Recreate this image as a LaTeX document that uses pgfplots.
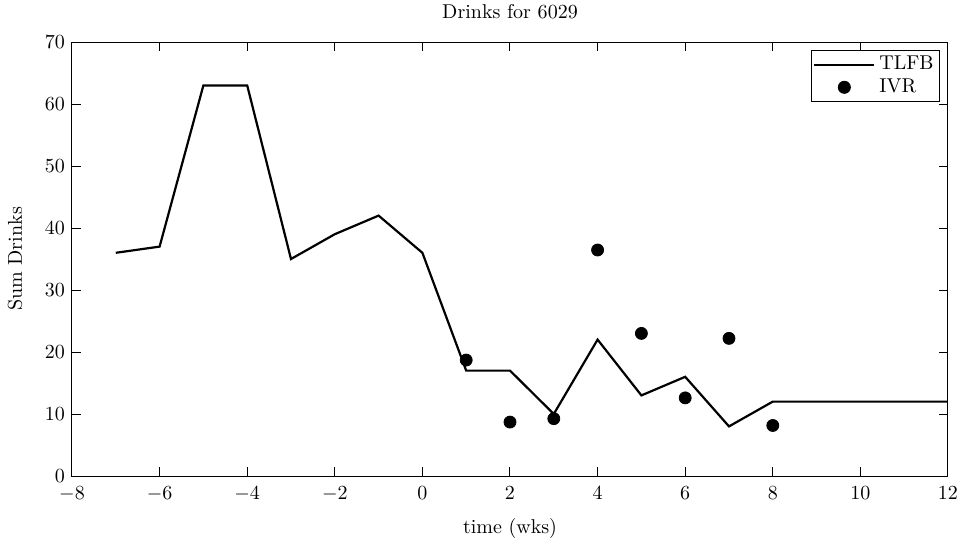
\documentclass[border=0pt]{standalone}
\usepackage{pgfplots}
\pgfplotsset{compat=1.18}
\begin{document}
\begin{tikzpicture}
\path[use as bounding box] (-36pt,-33pt) rectangle (446.5pt,238pt);
\begin{axis}[
  scale only axis,
  width=438pt, height=217pt,
  xmin=-8, xmax=12, ymin=0, ymax=70,
  xtick={-8,-6,...,12}, ytick={0,10,...,70},
  tick style={black, line width=0.5pt},
  axis line style={line width=0.5pt},
  x tick label style={yshift=-2pt},
  every axis title shift=0pt,
  title={Drinks for 6029},
  title style={at={(axis description cs:0.5,1.069)}, anchor=center},
  xlabel={time (wks)},
  xlabel style={at={(axis description cs:0.5,-0.12)}, anchor=center},
  ylabel={Sum Drinks},
  ylabel style={at={(axis description cs:-0.065,0.5)}, anchor=center},
  legend style={at={(0.991,0.982)}, anchor=north east, draw=black, line width=0.5pt,
    inner sep=1pt, row sep=-1pt, font=\normalsize},
  legend cell align=left,
]
\addplot[black, line width=1.1pt, mark=none,
  legend image code/.code={\draw[black, line width=1.1pt] (0pt,0pt) -- (30pt,0pt);}]
  coordinates {(-7,36) (-6,37) (-5,63) (-4,63) (-3,35) (-2,39) (-1,42) (0,36)
  (1,17) (2,17) (3,10) (4,22) (5,13) (6,16) (7,8) (8,12) (9,12) (10,12) (11,12) (12,12)};
\addlegendentry{TLFB}
\addplot[only marks, mark=*, mark size=3pt, black,
  legend image code/.code={\fill[black] (15pt,0pt) circle (3pt); \path[draw=none,fill=none] (0pt,0pt) -- (30pt,0pt);}]
  coordinates {(1,18.7) (2,8.7) (3,9.25) (4,36.45) (5,23.0) (6,12.6) (7,22.2) (8,8.15)};
\addlegendentry{IVR}
\end{axis}
\end{tikzpicture}
\end{document}
